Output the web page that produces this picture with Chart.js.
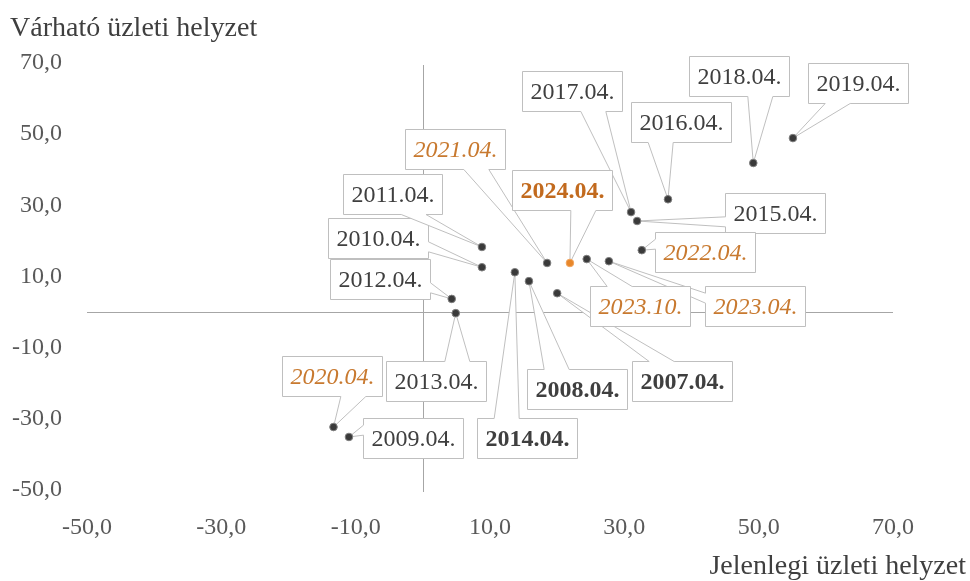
<!DOCTYPE html>
<html>
<head>
<meta charset="utf-8">
<script src="https://cdn.jsdelivr.net/npm/chart.js@4.4.1/dist/chart.umd.min.js"></script>
<style>
html, body { margin: 0; padding: 0; background: #fff; overflow: hidden; }
#wrap { width: 970px; height: 581px; position: relative; }
</style>
</head>
<body>
<div id="wrap"><canvas id="chart"></canvas></div>
<script>
// survey periods and the two balance indicators
var periods = ["2007.04.", "2008.04.", "2009.04.", "2010.04.", "2011.04.", "2012.04.", "2013.04.",
	"2014.04.", "2015.04.", "2016.04.", "2017.04.", "2018.04.", "2019.04.", "2020.04.",
	"2021.04.", "2022.04.", "2023.04.", "2023.10.", "2024.04."];
var current = [20.0, 15.8, -11.0, 8.8, 8.8, 4.3, 4.9, 13.7, 31.9, 36.5, 31.0, 49.2, 55.1, -13.3,
	18.5, 32.6, 27.7, 24.4, 21.9];
var expected = [5.3, 8.7, -35.1, 12.6, 18.3, 3.7, -0.3, 11.2, 25.6, 31.7, 28.1, 41.9, 48.9, -32.3,
	13.8, 17.4, 14.3, 14.9, 13.8];
var xTicks = [-50, -30, -10, 10, 30, 50, 70];
var yTicks = [-50, -30, -10, 10, 30, 50, 70];

// label look
var boldLabels = ["2007.04.", "2008.04.", "2014.04.", "2024.04."];
var orangeLabels = ["2020.04.", "2021.04.", "2022.04.", "2023.04.", "2023.10.", "2024.04."];
// where each callout box sits, relative to its point (px)
var labelOffsets = [[125, 88], [48, 108], [64, 1], [-104, -29], [-89, -53], [-72, -20], [-20, 68],
	[12, 166], [138, -8], [13, -77], [-59, -121], [-14, -87], [65, -55], [-2, -51],
	[-92, -114], [63, 2], [146, 45], [53, 47], [-8, -73]];

var FONT = "'Liberation Serif', serif";

function fmt(v) {
	return v.toFixed(1).replace(".", ",");
}

function calloutPath(ctx, l, t, w, h, ax, ay) {
	var r = l + w, b = t + h, cx = l + w / 2, cy = t + h / 2;
	var nx = (ax - cx) / (w / 2), ny = (ay - cy) / (h / 2);
	var a, c;
	ctx.beginPath();
	if (Math.abs(ny) >= Math.abs(nx)) {
		a = ax > cx ? l + w * 7 / 12 : l + w * 2 / 12;
		c = ax > cx ? l + w * 10 / 12 : l + w * 5 / 12;
		if (ny < 0) {
			ctx.moveTo(l, t); ctx.lineTo(a, t); ctx.lineTo(ax, ay); ctx.lineTo(c, t);
			ctx.lineTo(r, t); ctx.lineTo(r, b); ctx.lineTo(l, b);
		} else {
			ctx.moveTo(l, t); ctx.lineTo(r, t); ctx.lineTo(r, b); ctx.lineTo(c, b);
			ctx.lineTo(ax, ay); ctx.lineTo(a, b); ctx.lineTo(l, b);
		}
	} else {
		a = ay > cy ? t + h * 7 / 12 : t + h * 2 / 12;
		c = ay > cy ? t + h * 10 / 12 : t + h * 5 / 12;
		if (nx < 0) {
			ctx.moveTo(l, t); ctx.lineTo(r, t); ctx.lineTo(r, b); ctx.lineTo(l, b);
			ctx.lineTo(l, c); ctx.lineTo(ax, ay); ctx.lineTo(l, a);
		} else {
			ctx.moveTo(l, t); ctx.lineTo(r, t); ctx.lineTo(r, a); ctx.lineTo(ax, ay);
			ctx.lineTo(r, c); ctx.lineTo(r, b); ctx.lineTo(l, b);
		}
	}
	ctx.closePath();
}

var calloutPlugin = {
	id: "callouts",
	beforeDatasetsDraw: function (chart) {
		var ctx = chart.ctx, xs = chart.scales.x, ys = chart.scales.y, area = chart.chartArea;
		ctx.save();
		// axes crossing at zero
		var x0 = Math.round(xs.getPixelForValue(0)) + 0.5;
		var y0 = Math.round(ys.getPixelForValue(0)) + 0.5;
		ctx.strokeStyle = "#a6a6a6";
		ctx.lineWidth = 1;
		ctx.beginPath();
		ctx.moveTo(x0, area.top + 2); ctx.lineTo(x0, area.bottom + 2);
		ctx.moveTo(area.left, y0); ctx.lineTo(area.right, y0);
		ctx.stroke();

		var meta = chart.getDatasetMeta(0);
		ctx.textAlign = "center";
		ctx.textBaseline = "middle";
		for (var i = 0; i < periods.length; i++) {
			var name = periods[i];
			var pt = meta.data[i];
			var bold = boldLabels.indexOf(name) >= 0;
			var orange = orangeLabels.indexOf(name) >= 0;
			var italic = orange && !bold;
			ctx.font = (italic ? "italic " : "") + (bold ? "bold " : "") + "24px " + FONT;
			var tw = ctx.measureText(name).width;
			var w = Math.round(tw + 16), h = 40;
			var cx = pt.x + labelOffsets[i][0], cy = pt.y + labelOffsets[i][1];
			var l = Math.round(cx - w / 2) + 0.5, t = Math.round(cy - h / 2) + 0.5;
			calloutPath(ctx, l, t, w, h, pt.x, pt.y);
			ctx.fillStyle = "#ffffff";
			ctx.fill();
			ctx.strokeStyle = "#bfbfbf";
			ctx.stroke();
			ctx.fillStyle = orange ? (bold ? "#c26a1e" : "#c8792f") : "#3f3f3f";
			ctx.fillText(name, l + w / 2, t + h / 2 + 1);
		}

		// axis titles
		ctx.fillStyle = "#3f3f3f";
		ctx.font = "28px " + FONT;
		ctx.textBaseline = "alphabetic";
		ctx.textAlign = "left";
		ctx.fillText("Várható üzleti helyzet", 10, 36);
		ctx.textAlign = "right";
		ctx.fillText("Jelenlegi üzleti helyzet", 966, 574);
		ctx.restore();
	}
};

var points = periods.map(function (p, i) {
	return { x: current[i], y: expected[i] };
});

new Chart(document.getElementById("chart"), {
	type: "scatter",
	data: {
		datasets: [{
			label: "Üzleti helyzet",
			data: points,
			pointRadius: 3.8,
			pointBackgroundColor: periods.map(function (p) { return p === "2024.04." ? "#e8872a" : "#3a3a3a"; }),
			pointBorderColor: periods.map(function (p) { return p === "2024.04." ? "#f0a560" : "#808080"; }),
			pointBorderWidth: 1
		}]
	},
	options: {
		responsive: true,
		maintainAspectRatio: false,
		animation: false,
		layout: { padding: { top: 63, right: 77, left: 0, bottom: 0 } },
		plugins: {
			legend: { display: false },
			tooltip: { enabled: false },
			title: { display: false }
		},
		scales: {
			x: {
				type: "linear",
				min: -50,
				max: 70,
				afterBuildTicks: function (scale) {
					scale.ticks = xTicks.map(function (v) { return { value: v }; });
				},
				afterFit: function (scale) { scale.height = 91; },
				grid: { display: false },
				border: { display: false },
				ticks: {
					padding: 15,
					color: "#595959",
					font: { family: FONT, size: 24 },
					maxRotation: 0,
					callback: function (v) { return fmt(v); }
				}
			},
			y: {
				type: "linear",
				min: -50,
				max: 70,
				afterBuildTicks: function (scale) {
					scale.ticks = yTicks.map(function (v) { return { value: v }; });
				},
				afterFit: function (scale) { scale.width = 87; },
				grid: { display: false },
				border: { display: false },
				ticks: {
					padding: 17,
					color: "#595959",
					font: { family: FONT, size: 24 },
					callback: function (v) { return fmt(v); }
				}
			}
		}
	},
	plugins: [calloutPlugin]
});
</script>
</body>
</html>
